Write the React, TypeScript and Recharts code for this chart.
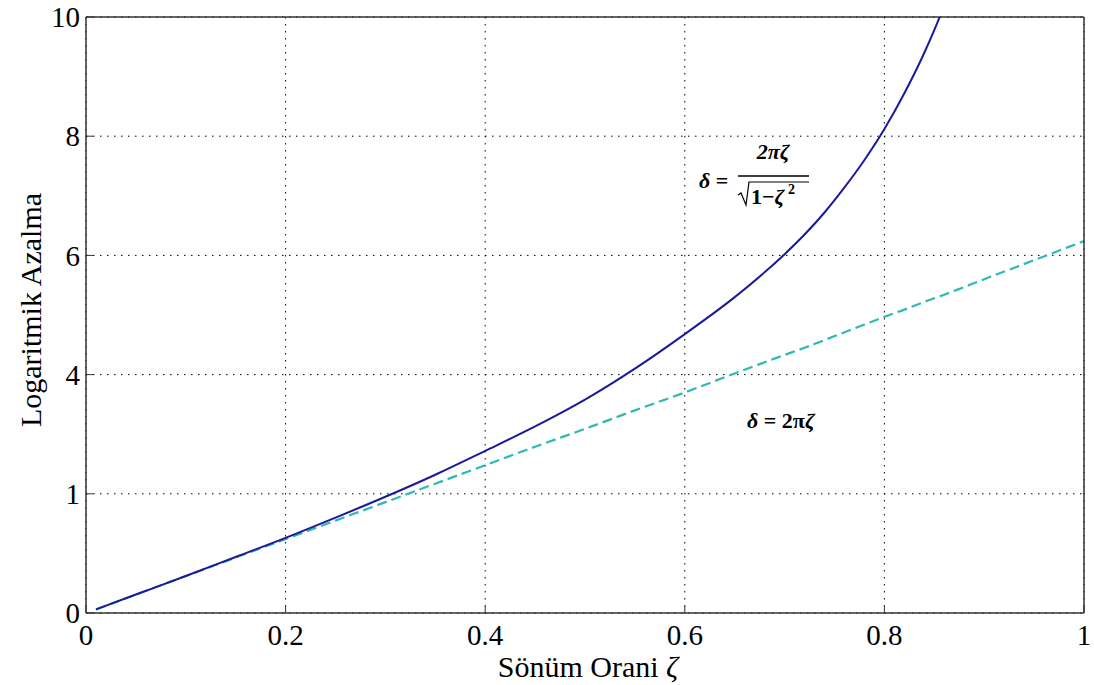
import { LineChart, Line, XAxis, YAxis, CartesianGrid } from 'recharts'

// damping ratio samples
const zeta = [0.01, 0.05, 0.1, 0.15, 0.2, 0.25, 0.3, 0.35, 0.4, 0.45, 0.5, 0.55, 0.6, 0.65, 0.7, 0.72, 0.74, 0.76, 0.78, 0.8, 0.82, 0.84, 0.86, 0.88, 0.9, 0.95, 1]

// delta = 2*pi*z / sqrt(1 - z^2) (solid blue)
const exact = [0.06, 0.31, 0.62, 0.94, 1.26, 1.6, 1.95, 2.32, 2.72, 3.13, 3.58, 4.1, 4.68, 5.3, 6.02, 6.35, 6.72, 7.14, 7.6, 8.12, 8.72, 9.4, 10.2, 11.2, null, null, null]

// delta = 2*pi*z (dashed cyan)
const approx = [0.06, 0.31, 0.62, 0.93, 1.24, 1.55, 1.86, 2.17, 2.48, 2.79, 3.09, 3.4, 3.7, 4.02, 4.33, 4.45, 4.58, 4.71, 4.84, 4.97, 5.09, 5.22, 5.34, 5.47, 5.6, 5.92, 6.24]

const xTicks = [0, 0.2, 0.4, 0.6, 0.8, 1]
const xLabels = ['0', '0.2', '0.4', '0.6', '0.8', '1']
const yTicks = [0, 2, 4, 6, 8, 10]
const yLabels = ['0', '1', '4', '6', '8', '10']

const data = zeta.map((z, i) => ({ z, exact: exact[i], approx: approx[i] }))

const font = '"Liberation Serif", "Times New Roman", serif'
const frame = '#333'
const tickFont = { fontFamily: font, fontSize: 29, fill: '#000' }

export default function App() {
  return (
    <div style={{ position: 'absolute', left: 0, top: 0, width: 1094, height: 685, background: '#fff' }}>
      <LineChart width={1094} height={685} data={data} margin={{ top: 16, right: 9, bottom: 12, left: 6 }}>
        <CartesianGrid stroke="#000" strokeDasharray="1.5 5.5" />
        <XAxis
          dataKey="z"
          type="number"
          domain={[0, 1]}
          ticks={xTicks}
          tickFormatter={(v) => xLabels[xTicks.indexOf(v)] ?? ''}
          height={60}
          tickSize={-7}
          tickMargin={18}
          tick={tickFont}
          axisLine={{ stroke: frame, strokeWidth: 1.5 }}
          tickLine={{ stroke: frame }}
          allowDataOverflow
        />
        <XAxis
          xAxisId="top"
          orientation="top"
          dataKey="z"
          type="number"
          domain={[0, 1]}
          ticks={xTicks}
          height={1}
          tickSize={-7}
          tick={false}
          axisLine={{ stroke: frame, strokeWidth: 1.5 }}
          tickLine={{ stroke: frame }}
        />
        <YAxis
          type="number"
          domain={[0, 10]}
          ticks={yTicks}
          tickFormatter={(v) => yLabels[yTicks.indexOf(v)] ?? ''}
          width={80}
          tickSize={-7}
          tickMargin={13}
          tick={tickFont}
          axisLine={{ stroke: frame, strokeWidth: 1.5 }}
          tickLine={{ stroke: frame }}
          allowDataOverflow
        />
        <YAxis
          yAxisId="right"
          orientation="right"
          type="number"
          domain={[0, 10]}
          ticks={yTicks}
          width={1}
          tickSize={-7}
          tick={false}
          axisLine={{ stroke: frame, strokeWidth: 1.5 }}
          tickLine={{ stroke: frame }}
        />
        <Line
          dataKey="approx"
          type="monotone"
          stroke="#2fb8b4"
          strokeWidth={2.2}
          strokeDasharray="10 5"
          dot={false}
          isAnimationActive={false}
        />
        <Line
          dataKey="exact"
          type="monotone"
          stroke="#1a1a9a"
          strokeWidth={2}
          dot={false}
          connectNulls={false}
          isAnimationActive={false}
        />
      </LineChart>
      <svg
        width={1094}
        height={685}
        style={{ position: 'absolute', left: 0, top: 0, pointerEvents: 'none' }}
        fontFamily={font}
      >
        <text x={588} y={677} textAnchor="middle" fontSize={30}>
          Sönüm Orani <tspan fontStyle="italic">ζ</tspan>
        </text>
        <text
          transform="translate(30 310) rotate(-90)"
          textAnchor="middle"
          dominantBaseline="central"
          fontSize={30}
        >
          Logaritmik Azalma
        </text>
        <g fontWeight="bold" fontStyle="italic" fontSize={22}>
          <text x={699} y={188}>δ <tspan fontStyle="normal">=</tspan></text>
          <text x={773} y={159} textAnchor="middle">2πζ</text>
          <line x1={738} y1={176} x2={809} y2={176} stroke="#000" strokeWidth={1.5} />
          <path d="M738 195 L741 193 L746 205 L749 182 L809 182" fill="none" stroke="#000" strokeWidth={1.2} />
          <text x={751} y={204}><tspan fontStyle="normal">1−</tspan>ζ</text>
          <text x={788} y={194} fontSize={14} fontStyle="normal">2</text>
          <text x={747} y={428}>δ <tspan fontStyle="normal">= 2π</tspan>ζ</text>
        </g>
      </svg>
    </div>
  )
}
